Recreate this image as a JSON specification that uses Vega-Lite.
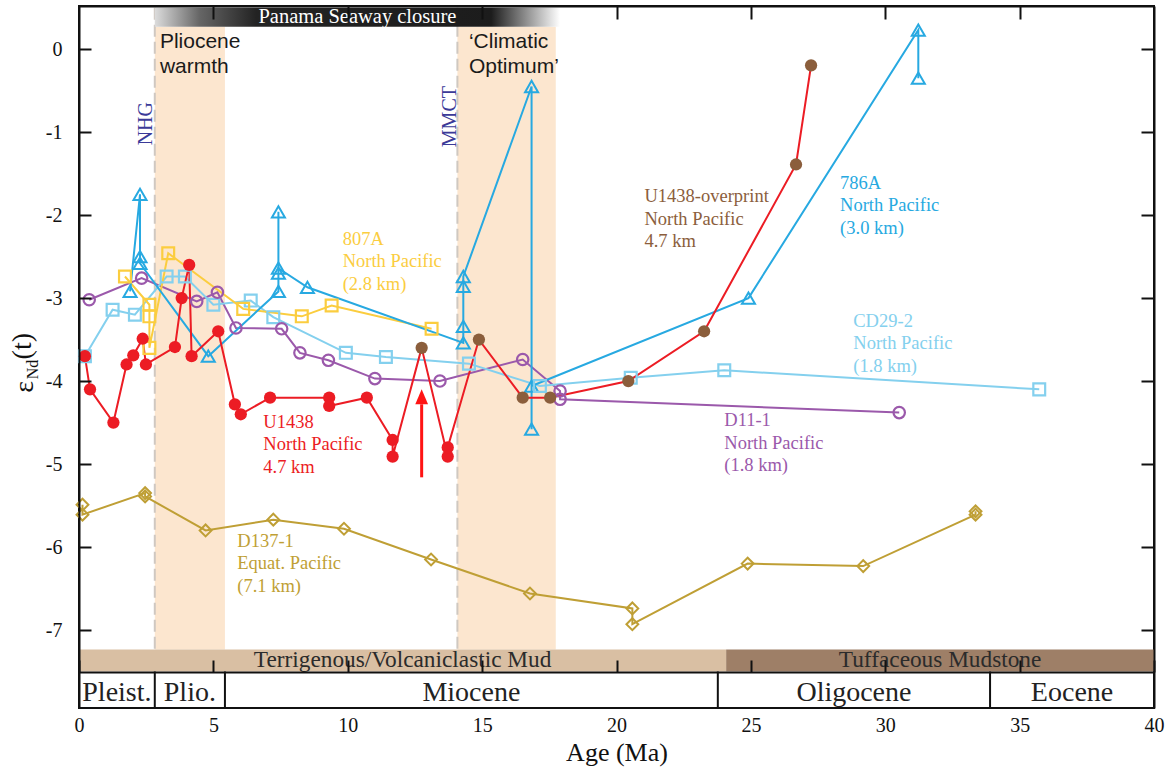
{
"$schema":"https://vega.github.io/schema/vega-lite/v6.json",
"width":1075,"height":702,"autosize":"none",
"padding":{"left":79,"top":6,"right":19,"bottom":59},
"background":"white",
"config":{"view":{"stroke":"#111","strokeWidth":2},"font":"Liberation Serif"},
"resolve":{"axis":{"x":"independent","y":"independent"}},
"datasets":{
"pts":[
{"s":"D137-1","m":"D137-1","o":1,"a":0.13,"e":-5.49},{"s":"D137-1","m":"D137-1","o":2,"a":0.13,"e":-5.61},{"s":"D137-1","m":"D137-1","o":3,"a":2.46,"e":-5.35},{"s":"D137-1","m":"D137-1","o":4,"a":2.46,"e":-5.39},{"s":"D137-1","m":"D137-1","o":5,"a":4.71,"e":-5.80},{"s":"D137-1","m":"D137-1","o":6,"a":7.23,"e":-5.67},{"s":"D137-1","m":"D137-1","o":7,"a":9.86,"e":-5.78},{"s":"D137-1","m":"D137-1","o":8,"a":13.10,"e":-6.15},{"s":"D137-1","m":"D137-1","o":9,"a":16.78,"e":-6.56},{"s":"D137-1","m":"D137-1","o":10,"a":20.59,"e":-6.74},{"s":"D137-1","m":"D137-1","o":11,"a":20.59,"e":-6.93},{"s":"D137-1","m":"D137-1","o":12,"a":24.88,"e":-6.20},{"s":"D137-1","m":"D137-1","o":13,"a":29.18,"e":-6.23},{"s":"D137-1","m":"D137-1","o":14,"a":33.36,"e":-5.61},{"s":"D137-1","m":"D137-1","o":15,"a":33.36,"e":-5.57},
{"s":"D11-1","m":"D11-1","o":1,"a":0.38,"e":-3.02},{"s":"D11-1","m":"D11-1","o":2,"a":2.33,"e":-2.76},{"s":"D11-1","m":"D11-1","o":3,"a":4.38,"e":-3.04},{"s":"D11-1","m":"D11-1","o":4,"a":5.15,"e":-2.93},{"s":"D11-1","m":"D11-1","o":5,"a":5.84,"e":-3.36},{"s":"D11-1","m":"D11-1","o":6,"a":7.54,"e":-3.37},{"s":"D11-1","m":"D11-1","o":7,"a":8.22,"e":-3.66},{"s":"D11-1","m":"D11-1","o":8,"a":9.28,"e":-3.75},{"s":"D11-1","m":"D11-1","o":9,"a":11.01,"e":-3.97},{"s":"D11-1","m":"D11-1","o":10,"a":13.43,"e":-4.00},{"s":"D11-1","m":"D11-1","o":11,"a":16.51,"e":-3.74},{"s":"D11-1","m":"D11-1","o":12,"a":17.90,"e":-4.12},{"s":"D11-1","m":"D11-1","o":13,"a":17.90,"e":-4.22},{"s":"D11-1","m":"D11-1","o":14,"a":30.52,"e":-4.38},
{"s":"CD29-2","m":"CD29-2","o":1,"a":0.22,"e":-3.70},{"s":"CD29-2","m":"CD29-2","o":2,"a":1.25,"e":-3.14},{"s":"CD29-2","m":"CD29-2","o":3,"a":2.08,"e":-3.20},{"s":"CD29-2","m":"CD29-2","o":4,"a":3.26,"e":-2.74},{"s":"CD29-2","m":"CD29-2","o":5,"a":3.94,"e":-2.74},{"s":"CD29-2","m":"CD29-2","o":6,"a":5.00,"e":-3.08},{"s":"CD29-2","m":"CD29-2","o":7,"a":6.39,"e":-3.03},{"s":"CD29-2","m":"CD29-2","o":8,"a":7.23,"e":-3.23},{"s":"CD29-2","m":"CD29-2","o":9,"a":9.93,"e":-3.66},{"s":"CD29-2","m":"CD29-2","o":10,"a":11.42,"e":-3.71},{"s":"CD29-2","m":"CD29-2","o":11,"a":14.51,"e":-3.79},{"s":"CD29-2","m":"CD29-2","o":12,"a":17.15,"e":-4.06},{"s":"CD29-2","m":"CD29-2","o":13,"a":20.53,"e":-3.96},{"s":"CD29-2","m":"CD29-2","o":14,"a":24.01,"e":-3.87},{"s":"CD29-2","m":"CD29-2","o":15,"a":35.73,"e":-4.10},
{"s":"807A","m":"807A","o":1,"a":1.71,"e":-2.74},{"s":"807A","m":"807A","o":2,"a":2.62,"e":-3.08},{"s":"807A","m":"807A","o":3,"a":2.62,"e":-3.22},{"s":"807A","m":"807A","o":4,"a":2.62,"e":-3.60},{"s":"807A","m":"807A","o":5,"a":3.32,"e":-2.46},{"s":"807A","m":"807A","o":6,"a":6.11,"e":-3.13},{"s":"807A","m":"807A","o":7,"a":8.29,"e":-3.22},{"s":"807A","m":"807A","o":8,"a":9.40,"e":-3.09},{"s":"807A","m":"807A","o":9,"a":13.12,"e":-3.37},
{"s":"786A","m":"786A","o":1,"a":1.90,"e":-2.92},{"s":"786A","m":"786A","o":2,"a":2.27,"e":-1.75},{"s":"786A","m":"786A","o":3,"a":2.27,"e":-2.50},{"s":"786A","m":"786A","o":4,"a":2.27,"e":-2.58},{"s":"786A","m":"786A","o":5,"a":4.81,"e":-3.70},{"s":"786A","m":"786A","o":6,"a":7.42,"e":-2.92},{"s":"786A","m":"786A","o":7,"a":7.42,"e":-2.70},{"s":"786A","m":"786A","o":8,"a":7.42,"e":-1.96},{"s":"786A","m":"786A","o":9,"a":7.42,"e":-2.64},{"s":"786A","m":"786A","o":10,"a":8.50,"e":-2.87},{"s":"786A","m":"786A","o":11,"a":14.30,"e":-3.54},{"s":"786A","m":"786A","o":12,"a":14.30,"e":-3.34},{"s":"786A","m":"786A","o":13,"a":14.30,"e":-2.86},{"s":"786A","m":"786A","o":14,"a":14.30,"e":-2.74},{"s":"786A","m":"786A","o":15,"a":16.84,"e":-0.45},{"s":"786A","m":"786A","o":16,"a":16.84,"e":-4.58},{"s":"786A","m":"786A","o":17,"a":16.84,"e":-4.06},{"s":"786A","m":"786A","o":18,"a":24.91,"e":-3.00},{"s":"786A","m":"786A","o":19,"a":31.23,"e":0.23},{"s":"786A","m":"786A","o":20,"a":31.23,"e":-0.35},
{"s":"U1438","m":"U1438","o":1,"a":0.22,"e":-3.70},{"s":"U1438","m":"U1438","o":2,"a":0.41,"e":-4.10},{"s":"U1438","m":"U1438","o":3,"a":1.28,"e":-4.50},{"s":"U1438","m":"U1438","o":4,"a":1.77,"e":-3.80},{"s":"U1438","m":"U1438","o":5,"a":2.02,"e":-3.69},{"s":"U1438","m":"U1438","o":6,"a":2.37,"e":-3.49},{"s":"U1438","m":"U1438","o":7,"a":2.49,"e":-3.80},{"s":"U1438","m":"U1438","o":8,"a":3.57,"e":-3.59},{"s":"U1438","m":"U1438","o":9,"a":3.82,"e":-3.00},{"s":"U1438","m":"U1438","o":10,"a":4.10,"e":-2.60},{"s":"U1438","m":"U1438","o":11,"a":4.19,"e":-3.70},{"s":"U1438","m":"U1438","o":12,"a":5.18,"e":-3.40},{"s":"U1438","m":"U1438","o":13,"a":5.80,"e":-4.28},{"s":"U1438","m":"U1438","o":14,"a":6.02,"e":-4.40},{"s":"U1438","m":"U1438","o":15,"a":7.11,"e":-4.20},{"s":"U1438","m":"U1438","o":16,"a":9.31,"e":-4.20},{"s":"U1438","m":"U1438","o":17,"a":9.31,"e":-4.30},{"s":"U1438","m":"U1438","o":18,"a":10.71,"e":-4.20},{"s":"U1438","m":"U1438","o":19,"a":11.67,"e":-4.71},{"s":"U1438","m":"U1438","o":20,"a":11.67,"e":-4.91},{"s":"U1438","m":"U1438-overprint","o":21,"a":12.75,"e":-3.60},{"s":"U1438","m":"U1438","o":22,"a":13.72,"e":-4.91},{"s":"U1438","m":"U1438","o":23,"a":13.72,"e":-4.80},{"s":"U1438","m":"U1438-overprint","o":24,"a":14.88,"e":-3.50},{"s":"U1438","m":"U1438-overprint","o":25,"a":16.51,"e":-4.20},{"s":"U1438","m":"U1438-overprint","o":26,"a":17.53,"e":-4.20},{"s":"U1438","m":"U1438-overprint","o":27,"a":20.44,"e":-4.00},{"s":"U1438","m":"U1438-overprint","o":28,"a":23.26,"e":-3.40},{"s":"U1438","m":"U1438-overprint","o":29,"a":26.68,"e":-1.39},{"s":"U1438","m":"U1438-overprint","o":30,"a":27.24,"e":-0.195}
],
"bands":[{"a":2.82,"a2":5.43},{"a":14.08,"a2":17.74}],
"events":[{"n":"NHG","a":2.82,"la":2.716,"le":-0.898},{"n":"MMCT","a":14.08,"la":14.03,"le":-0.813}],
"litho":[{"k":"Terrigenous/Volcaniclastic Mud","a":0,"a2":24.08},{"k":"Tuffaceous Mudstone","a":24.08,"a2":40}],
"epochs":[{"n":"Pleist.","a":0,"a2":2.82},{"n":"Plio.","a":2.82,"a2":5.43},{"n":"Miocene","a":5.43,"a2":23.77},{"n":"Oligocene","a":23.77,"a2":33.9},{"n":"Eocene","a":33.9,"a2":40}],
"panama":[{"n":"Panama Seaway closure","a":2.82,"a2":17.9}],
"labels":[
{"s":"807A","t":"807A\nNorth Pacific\n(2.8 km)","a":9.81,"e":-2.355},
{"s":"786A","t":"786A\nNorth Pacific\n(3.0 km)","a":28.32,"e":-1.684},
{"s":"U1438-overprint","t":"U1438-overprint\nNorth Pacific\n4.7 km","a":21.04,"e":-1.846},
{"s":"CD29-2","t":"CD29-2\nNorth Pacific\n(1.8 km)","a":28.81,"e":-3.347},
{"s":"D11-1","t":"D11-1\nNorth Pacific\n(1.8 km)","a":24.01,"e":-4.545},
{"s":"U1438","t":"U1438\nNorth Pacific\n4.7 km","a":6.86,"e":-4.564},
{"s":"D137-1","t":"D137-1\nEquat. Pacific\n(7.1 km)","a":5.89,"e":-5.998}
],
"notes":[{"t":"Pliocene\nwarmth","a":3.01,"e":0.0145},{"t":"‘Climatic\nOptimum’","a":14.51,"e":0.0145}],
"arrow":[{"a":12.75,"e":-5.16,"e2":-4.28,"tip":-4.19}],
"ybig":[{"t":"ε","a":-1.72,"e":-4.07},{"t":"(t)","a":-1.80,"e":-3.58}],
"ysmall":[{"t":"Nd","a":-1.53,"e":-3.86}]
},
"layer":[
{"data":{"name":"bands"},"mark":{"type":"rect","color":"#fce6cf"},
 "encoding":{"x":{"field":"a","type":"quantitative","scale":{"domain":[0,40],"nice":false,"zero":false},"axis":null},"x2":{"field":"a2"},
  "y":{"datum":0.27,"type":"quantitative","scale":{"domain":[-7.94,0.52],"nice":false,"zero":false},"axis":null},"y2":{"datum":-7.235}}},
{"data":{"name":"events"},"mark":{"type":"rule","color":"#cfc8c1","strokeWidth":2,"strokeDash":[12,5]},
 "encoding":{"x":{"field":"a","type":"quantitative","scale":{"domain":[0,40],"nice":false,"zero":false},"axis":null},
  "y":{"datum":0.5,"type":"quantitative","scale":{"domain":[-7.94,0.52],"nice":false,"zero":false},"axis":null},"y2":{"datum":-7.235}}},
{"data":{"name":"litho"},"mark":{"type":"rect"},
 "encoding":{"x":{"field":"a","type":"quantitative","scale":{"domain":[0,40],"nice":false,"zero":false},"axis":null},"x2":{"field":"a2"},
  "y":{"datum":-7.235,"type":"quantitative","scale":{"domain":[-7.94,0.52],"nice":false,"zero":false},"axis":null},"y2":{"datum":-7.5},
  "fill":{"field":"k","type":"nominal","scale":{"domain":["Terrigenous/Volcaniclastic Mud","Tuffaceous Mudstone"],"range":["#d9bfa3","#9e7f67"]},"legend":null}}},
{"data":{"name":"litho"},"transform":[{"calculate":"(datum.a+datum.a2)/2","as":"mid"}],
 "mark":{"type":"text","font":"Liberation Serif","fontSize":23.3,"color":"#2b2b2b","align":"center","baseline":"alphabetic"},
 "encoding":{"x":{"field":"mid","type":"quantitative","scale":{"domain":[0,40],"nice":false,"zero":false},"axis":null},
  "y":{"datum":-7.44,"type":"quantitative","scale":{"domain":[-7.94,0.52],"nice":false,"zero":false},"axis":null},"text":{"field":"k"}}},
{"data":{"name":"epochs"},"transform":[{"filter":"datum.a2 < 40"}],"mark":{"type":"rule","color":"#111","strokeWidth":2},
 "encoding":{"x":{"field":"a2","type":"quantitative","scale":{"domain":[0,40],"nice":false,"zero":false},"axis":null},
  "y":{"datum":-7.5,"type":"quantitative","scale":{"domain":[-7.94,0.52],"nice":false,"zero":false},"axis":null},"y2":{"datum":-7.94}}},
{"data":{"name":"epochs"},"transform":[{"calculate":"(datum.a+datum.a2)/2","as":"mid"}],
 "mark":{"type":"text","font":"Liberation Serif","fontSize":28,"color":"#222","align":"center","baseline":"alphabetic"},
 "encoding":{"x":{"field":"mid","type":"quantitative","scale":{"domain":[0,40],"nice":false,"zero":false},"axis":null},
  "y":{"datum":-7.858,"type":"quantitative","scale":{"domain":[-7.94,0.52],"nice":false,"zero":false},"axis":null},"text":{"field":"n"}}},
{"data":{"name":"panama"},
 "mark":{"type":"rect","color":{"gradient":"linear","x1":0,"y1":0,"x2":1,"y2":0,"stops":[{"offset":0,"color":"#dcdcdc"},{"offset":0.11,"color":"#666666"},{"offset":0.25,"color":"#232323"},{"offset":0.83,"color":"#1c1c1c"},{"offset":1,"color":"#ffffff"}]}},
 "encoding":{"x":{"field":"a","type":"quantitative","scale":{"domain":[0,40],"nice":false,"zero":false},"axis":null},"x2":{"field":"a2"},
  "y":{"datum":0.27,"type":"quantitative","scale":{"domain":[-7.94,0.52],"nice":false,"zero":false},"axis":null},"y2":{"datum":0.5}}},
{"data":{"name":"panama"},"transform":[{"calculate":"(datum.a+datum.a2)/2","as":"mid"}],
 "mark":{"type":"text","font":"Liberation Serif","fontSize":20.5,"color":"#ffffff","align":"center","baseline":"alphabetic"},
 "encoding":{"x":{"field":"mid","type":"quantitative","scale":{"domain":[0,40],"nice":false,"zero":false},"axis":null},
  "y":{"datum":0.316,"type":"quantitative","scale":{"domain":[-7.94,0.52],"nice":false,"zero":false},"axis":null},"text":{"field":"n"}}},
{"data":{"name":"pts"},"mark":{"type":"line","strokeWidth":2},
 "encoding":{
  "x":{"field":"a","type":"quantitative","scale":{"domain":[0,40],"nice":false,"zero":false},
   "axis":{"orient":"bottom","offset":-36,"values":[0,5,10,15,20,25,30,35,40],"tickSize":-12,"tickWidth":2,"tickColor":"#111","domain":true,"domainColor":"#111","domainWidth":2,"labelPadding":55,"labelFont":"Liberation Serif","labelFontSize":20,"labelColor":"#111","labelFlush":false,"labelOverlap":false,"grid":false,"zindex":1,"title":"Age (Ma)","titleFont":"Liberation Serif","titleFontSize":26,"titleFontWeight":"normal","titleColor":"#111","titlePadding":4}},
  "y":{"field":"e","type":"quantitative","scale":{"domain":[-7.94,0.52],"nice":false,"zero":false},
   "axis":{"orient":"left","values":[-7,-6,-5,-4,-3,-2,-1,0],"tickSize":-12,"tickWidth":2,"tickColor":"#111","domain":true,"domainColor":"#111","domainWidth":2,"labelPadding":29,"labelFont":"Liberation Serif","labelFontSize":20,"labelColor":"#111","labelOverlap":false,"labelExpr":"datum.value < 0 ? '-' + abs(datum.value) : '0'","grid":false,"zindex":1,"title":null}},
  "color":{"field":"s","type":"nominal","scale":{"domain":["786A","CD29-2","807A","D11-1","U1438","U1438-overprint","D137-1"],"range":["#27a9e1","#84d0ee","#fbcd3f","#9b59ab","#ec1c24","#8b5e3c","#bf9f35"]},"legend":null},
  "order":{"field":"o","type":"quantitative"}}},
{"data":{"name":"pts"},"transform":[{"filter":"datum.m == '786A'"}],"mark":{"type":"point","shape":"triangle-up","filled":false,"strokeWidth":2,"size":170,"opacity":1},
 "encoding":{
  "x":{"field":"a","type":"quantitative","scale":{"domain":[0,40],"nice":false,"zero":false},
   "axis":{"orient":"top","values":[5,10,15,20,25,30,35],"tickSize":-13,"tickWidth":2,"tickColor":"#111","domain":true,"domainColor":"#111","domainWidth":2,"labels":false,"grid":false,"zindex":1,"title":null}},
  "y":{"field":"e","type":"quantitative","scale":{"domain":[-7.94,0.52],"nice":false,"zero":false},
   "axis":{"orient":"right","values":[-7,-6,-5,-4,-3,-2,-1,0],"tickSize":-13,"tickWidth":2,"tickColor":"#111","domain":true,"domainColor":"#111","domainWidth":2,"labels":false,"grid":false,"zindex":1,"title":null}},
  "color":{"field":"m","type":"nominal","legend":null}}},
{"data":{"name":"pts"},"transform":[{"filter":"datum.m == 'CD29-2' || datum.m == '807A'"}],"mark":{"type":"point","shape":"square","filled":false,"strokeWidth":2.2,"size":140,"opacity":1},
 "encoding":{"x":{"field":"a","type":"quantitative","scale":{"domain":[0,40],"nice":false,"zero":false},"axis":null},
  "y":{"field":"e","type":"quantitative","scale":{"domain":[-7.94,0.52],"nice":false,"zero":false},"axis":null},
  "color":{"field":"m","type":"nominal","legend":null}}},
{"data":{"name":"pts"},"transform":[{"filter":"datum.m == 'D11-1'"}],"mark":{"type":"point","shape":"circle","filled":false,"strokeWidth":2.2,"size":130,"opacity":1},
 "encoding":{"x":{"field":"a","type":"quantitative","scale":{"domain":[0,40],"nice":false,"zero":false},"axis":null},
  "y":{"field":"e","type":"quantitative","scale":{"domain":[-7.94,0.52],"nice":false,"zero":false},"axis":null},
  "color":{"field":"m","type":"nominal","legend":null}}},
{"data":{"name":"pts"},"transform":[{"filter":"datum.m == 'D137-1'"}],"mark":{"type":"point","shape":"diamond","filled":false,"strokeWidth":2,"size":140,"opacity":1},
 "encoding":{"x":{"field":"a","type":"quantitative","scale":{"domain":[0,40],"nice":false,"zero":false},"axis":null},
  "y":{"field":"e","type":"quantitative","scale":{"domain":[-7.94,0.52],"nice":false,"zero":false},"axis":null},
  "color":{"field":"m","type":"nominal","legend":null}}},
{"data":{"name":"pts"},"transform":[{"filter":"datum.s == 'U1438'"}],"mark":{"type":"point","shape":"circle","filled":true,"size":150,"opacity":1},
 "encoding":{"x":{"field":"a","type":"quantitative","scale":{"domain":[0,40],"nice":false,"zero":false},"axis":null},
  "y":{"field":"e","type":"quantitative","scale":{"domain":[-7.94,0.52],"nice":false,"zero":false},"axis":null},
  "color":{"field":"m","type":"nominal","legend":null}}},
{"data":{"name":"labels"},"mark":{"type":"text","font":"Liberation Serif","fontSize":18.5,"lineHeight":22.5,"lineBreak":"\n","align":"left","baseline":"alphabetic"},
 "encoding":{"x":{"field":"a","type":"quantitative","scale":{"domain":[0,40],"nice":false,"zero":false},"axis":null},
  "y":{"field":"e","type":"quantitative","scale":{"domain":[-7.94,0.52],"nice":false,"zero":false},"axis":null},
  "text":{"field":"t"},"color":{"field":"s","type":"nominal","legend":null}}},
{"data":{"name":"notes"},"mark":{"type":"text","font":"Liberation Sans","fontSize":21,"lineHeight":25.5,"lineBreak":"\n","align":"left","baseline":"alphabetic","color":"#1a1a1a"},
 "encoding":{"x":{"field":"a","type":"quantitative","scale":{"domain":[0,40],"nice":false,"zero":false},"axis":null},
  "y":{"field":"e","type":"quantitative","scale":{"domain":[-7.94,0.52],"nice":false,"zero":false},"axis":null},
  "text":{"field":"t"}}},
{"data":{"name":"events"},"mark":{"type":"text","font":"Liberation Serif","fontSize":20,"angle":270,"align":"center","baseline":"alphabetic","color":"#3b3a98"},
 "encoding":{"x":{"field":"la","type":"quantitative","scale":{"domain":[0,40],"nice":false,"zero":false},"axis":null},
  "y":{"field":"le","type":"quantitative","scale":{"domain":[-7.94,0.52],"nice":false,"zero":false},"axis":null},
  "text":{"field":"n"}}},
{"data":{"name":"arrow"},"mark":{"type":"rule","color":"#ff1414","strokeWidth":3},
 "encoding":{"x":{"field":"a","type":"quantitative","scale":{"domain":[0,40],"nice":false,"zero":false},"axis":null},
  "y":{"field":"e","type":"quantitative","scale":{"domain":[-7.94,0.52],"nice":false,"zero":false},"axis":null},"y2":{"field":"e2"}}},
{"data":{"name":"arrow"},"mark":{"type":"point","shape":"M0,-1L0.85,1L-0.85,1Z","filled":true,"size":225,"color":"#ff1414","opacity":1},
 "encoding":{"x":{"field":"a","type":"quantitative","scale":{"domain":[0,40],"nice":false,"zero":false},"axis":null},
  "y":{"field":"tip","type":"quantitative","scale":{"domain":[-7.94,0.52],"nice":false,"zero":false},"axis":null}}},
{"data":{"name":"ybig"},"mark":{"type":"text","font":"Liberation Serif","fontSize":28,"angle":270,"align":"center","baseline":"alphabetic","color":"#111"},
 "encoding":{"x":{"field":"a","type":"quantitative","scale":{"domain":[0,40],"nice":false,"zero":false},"axis":null},
  "y":{"field":"e","type":"quantitative","scale":{"domain":[-7.94,0.52],"nice":false,"zero":false},"axis":null},
  "text":{"field":"t"}}},
{"data":{"name":"ysmall"},"mark":{"type":"text","font":"Liberation Serif","fontSize":16,"angle":270,"align":"center","baseline":"alphabetic","color":"#111"},
 "encoding":{"x":{"field":"a","type":"quantitative","scale":{"domain":[0,40],"nice":false,"zero":false},"axis":null},
  "y":{"field":"e","type":"quantitative","scale":{"domain":[-7.94,0.52],"nice":false,"zero":false},"axis":null},
  "text":{"field":"t"}}}
]
}
